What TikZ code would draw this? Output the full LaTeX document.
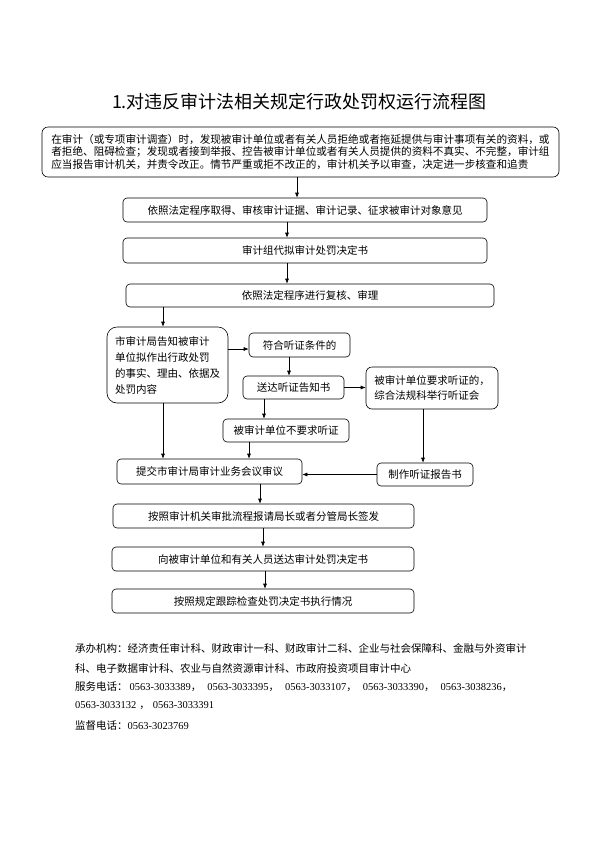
\documentclass[tikz,border=0pt]{standalone}
\usepackage{fontspec}
\setmainfont{Noto Sans CJK SC}
\newfontfamily\latfont{Liberation Serif}
\usetikzlibrary{arrows.meta, positioning, calc}
\newcommand{\tel}[1]{{\latfont #1}}

\tikzset{
  hop/.style={draw, line width=0.6pt, rounded corners=4pt, inner sep=2pt,
    minimum height=24pt, font=\fontsize{10.5}{13}\selectfont},
  muiten/.style={-{Latex[length=5pt,width=4pt]}, line width=0.6pt},
  ghichu/.style={anchor=west, inner sep=0pt, font=\fontsize{10.5}{13}\selectfont}
}

\begin{document}
\begin{tikzpicture}[x=1pt, y=-1pt]
        % Khung trang
        \useasboundingbox (0,0) rectangle (600,849);

        % Tiêu đề
        \node[font=\fontsize{18}{20}\selectfont] (tieude) at (299.5,102) {1.对违反审计法相关规定行政处罚权运行流程图};

        % Khối mở đầu
        \node[hop, minimum width=517pt, minimum height=50pt, rounded corners=6pt, align=left,
              font=\fontsize{10.6}{12.8}\selectfont] (modau) at (300.5,152)
          {在审计（或专项审计调查）时，发现被审计单位或者有关人员拒绝或者拖延提供与审计事项有关的资料，或\\
           者拒绝、阻碍检查；发现或者接到举报、控告被审计单位或者有关人员提供的资料不真实、不完整，审计组\\
           应当报告审计机关，并责令改正。情节严重或拒不改正的，审计机关予以审查，决定进一步核查和追责};

        % Các bước chính (chữ lệch trái một chút như bản gốc)
        \node[hop, minimum width=364pt] (chungcu) at (305,210) {依照法定程序取得、审核审计证据、审计记录、征求被审计对象意见\hspace{12pt}};
        \node[hop, minimum width=364pt, minimum height=25pt] (duthao) at (305,250.5) {审计组代拟审计处罚决定书\hspace{42pt}};
        \node[hop, minimum width=368pt, minimum height=23pt] (phuctra) at (310,295.5) {依照法定程序进行复核、审理\hspace{48pt}};

        % Nhánh thông báo và điều trần
        \node[hop, minimum width=121pt, minimum height=76pt, rounded corners=10pt, align=left,
              font=\fontsize{10.5}{16}\selectfont] (thongbao) at (167.5,365)
          {市审计局告知被审计\\单位拟作出行政处罚\\的事实、理由、依据及\\处罚内容};
        \node[hop, minimum width=101pt] (dieukien) at (299.5,345) {符合听证条件的};
        \node[hop, minimum width=101pt, minimum height=23pt] (tongdat) at (293.5,387.5) {送达听证告知书};
        \node[hop, minimum width=132pt, minimum height=42pt, rounded corners=6pt, align=left,
              font=\fontsize{10.5}{15}\selectfont] (yeucau) at (432,388)
          {被审计单位要求听证的，\\综合法规科举行听证会};
        \node[hop, minimum width=126pt, minimum height=23pt] (khongyc) at (286,430.5) {被审计单位不要求听证};
        \node[hop, minimum width=185pt, minimum height=25pt] (trinh) at (209.5,471.5) {提交市审计局审计业务会议审议};
        \node[hop, minimum width=96pt, minimum height=23pt] (baocao) at (425,474.5) {制作听证报告书};

        % Các bước cuối
        \node[hop, minimum width=301pt] (kyphat) at (263.5,516) {按照审计机关审批流程报请局长或者分管局长签发};
        \node[hop, minimum width=302pt] (gui) at (263,559) {向被审计单位和有关人员送达审计处罚决定书};
        \node[hop, minimum width=302pt] (theodoi) at (263,601) {按照规定跟踪检查处罚决定书执行情况};

        % Mũi tên dọc
        \draw[muiten] (modau.south -| 297,0) -- (chungcu.north -| 297,0);
        \draw[muiten] (chungcu.south -| 287,0) -- (duthao.north -| 287,0);
        \draw[muiten] (duthao.south -| 287,0) -- (phuctra.north -| 287,0);
        \draw[muiten] (phuctra.south -| 163,0) -- (thongbao.north -| 163,0);
        \draw[muiten] (dieukien.south -| 289,0) -- (tongdat.north -| 289,0);
        \draw[muiten] (tongdat.south -| 264,0) -- (khongyc.north -| 264,0);
        \draw[muiten] (khongyc.south -| 249,0) -- (trinh.north -| 249,0);
        \draw[muiten] (thongbao.south -| 163,0) -- (trinh.north -| 163,0);
        \draw[muiten] (yeucau.south -| 423,0) -- (baocao.north -| 423,0);
        \draw[muiten] (trinh.south -| 260,0) -- (kyphat.north -| 260,0);
        \draw[muiten] (kyphat.south -| 263,0) -- (gui.north -| 263,0);
        \draw[muiten] (gui.south -| 265,0) -- (theodoi.north -| 265,0);

        % Mũi tên ngang
        \draw[muiten] (thongbao.east |- 0,349) -- (dieukien.west |- 0,349);
        \draw[muiten] (tongdat.east) -- (tongdat.east -| yeucau.west);
        \draw[muiten] (baocao.west) -- (baocao.west -| trinh.east);

        % Ghi chú cuối trang
        \node[ghichu] (coquan1) at (75,648) {承办机构：经济责任审计科、财政审计一科、财政审计二科、企业与社会保障科、金融与外资审计};
        \node[ghichu] (coquan2) at (75,668) {科、电子数据审计科、农业与自然资源审计科、市政府投资项目审计中心};
        \node[ghichu] (dienthoai1) at (75,687) {服务电话：\hspace{2pt}\tel{0563-3033389}，\hspace{6pt}\tel{0563-3033395}，\hspace{6pt}\tel{0563-3033107}，\hspace{6pt}\tel{0563-3033390}，\hspace{6pt}\tel{0563-3038236}，};
        \node[ghichu] (dienthoai2) at (75,706) {\tel{0563-3033132}\hspace{3pt}，\hspace{3pt}\tel{0563-3033391}};
        \node[ghichu] (giamsat) at (75,725) {监督电话：\tel{0563-3023769}};
    \end{tikzpicture}
\end{document}
